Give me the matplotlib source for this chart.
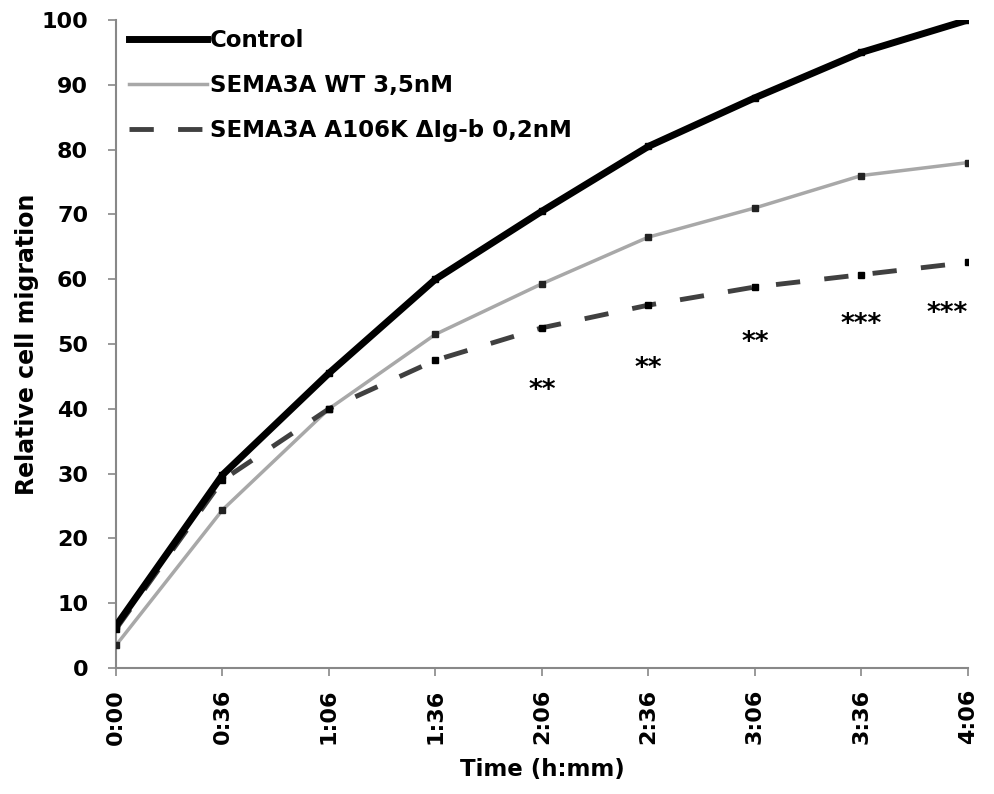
import matplotlib
matplotlib.use("Agg")
import matplotlib.pyplot as plt
from matplotlib.lines import Line2D

times = ["0:00", "0:36", "1:06", "1:36", "2:06", "2:36", "3:06", "3:36", "4:06"]
control = [6.5, 29.8, 45.5, 60.0, 70.5, 80.5, 88.0, 95.0, 100.0]
wt = [3.5, 24.4, 40.0, 51.5, 59.3, 66.5, 71.0, 76.0, 78.0]
a106k = [6.0, 29.0, 40.0, 47.5, 52.5, 56.0, 58.8, 60.7, 62.6]
star_idx = [4, 5, 6, 7, 8]
star_text = ["**", "**", "**", "***", "***"]
star_y = [43.5, 46.9, 50.9, 53.7, 55.4]
labels = ["Control", "SEMA3A WT 3,5nM", "SEMA3A A106K \u0394Ig-b 0,2nM"]

plt.rcParams['font.family'] = ['DejaVu Sans']
fig = plt.figure(figsize=(9.94, 7.94), dpi=100)
ax = fig.add_axes([0.1167, 0.1587, 0.8571, 0.8161])
x = list(range(len(times)))

styles = [
    dict(color='black', lw=5, zorder=3),
    dict(color='#a8a8a8', lw=2.5, zorder=2),
    dict(color='#404040', lw=3.5, dashes=(5, 5), zorder=2),
]
mk = [
    dict(marker='s', ms=5, color='black'),
    dict(marker='s', ms=4, color='#222222'),
    dict(marker='s', ms=5, color='black'),
]
handles = []
for ys, st, m, lab in zip([control, wt, a106k], styles, mk, labels):
    ax.plot(x, ys, **st)
    ax.plot(x, ys, ls='none', zorder=4, **m)
    handles.append(Line2D([], [], **st))

for i, t, yv in zip(star_idx, star_text, star_y):
    xo = i - (0.2 if i == len(times) - 1 else 0)
    ax.annotate(t, (xo, yv), xytext=(0, -8.5), textcoords='offset points',
                ha='center', va='baseline', fontsize=19, fontweight='bold')

ax.set_xlim(0, len(times) - 1)
ax.set_ylim(0, 100)
ax.set_xticks(x)
ax.set_xticklabels(times, rotation=90, fontsize=16, fontweight='bold')
ax.set_yticks(range(0, 101, 10))
ax.set_yticklabels([str(v) for v in range(0, 101, 10)], fontsize=16, fontweight='bold')
ax.tick_params(axis='both', color='#888888', length=6, width=1.2, direction='out')
ax.tick_params(axis='y', pad=14)
ax.tick_params(axis='x', pad=9)
for s in ['top', 'right']:
    ax.spines[s].set_visible(False)
for s in ['left', 'bottom']:
    ax.spines[s].set_color('#888888')
    ax.spines[s].set_linewidth(1.5)
ax.set_xlabel('Time (h:mm)', fontsize=16.5, fontweight='bold', labelpad=10)
ax.set_ylabel('Relative cell migration', fontsize=17, fontweight='bold', labelpad=2)

leg = ax.legend(handles, labels, loc='upper left', frameon=False, fontsize=16.5,
                handlelength=3.4, borderaxespad=0.0, labelspacing=0.95,
                handletextpad=0.1, bbox_to_anchor=(0.005, 1.0))
for t in leg.get_texts():
    t.set_fontweight('bold')

fig.savefig('out.png', dpi=100)
